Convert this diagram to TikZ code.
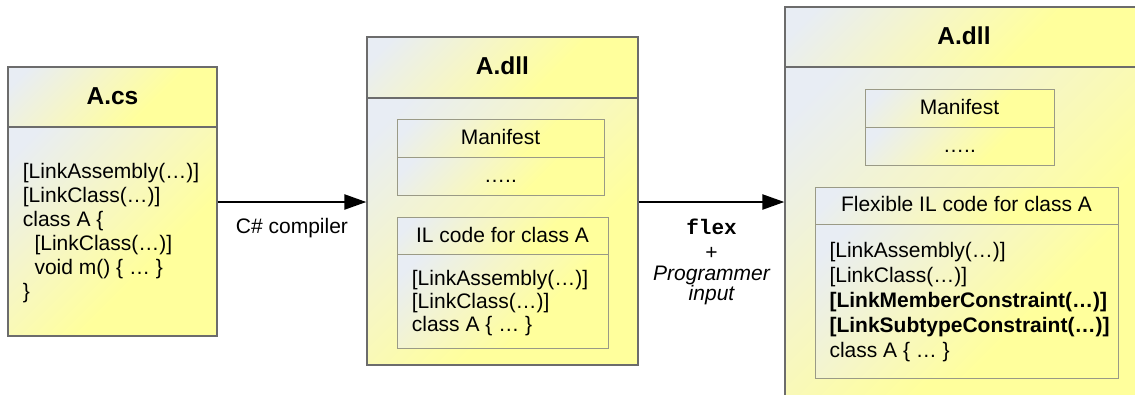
\documentclass[tikz,border=0pt]{standalone}
\usepackage{fontspec}
\setmainfont{Liberation Sans}
\setmonofont{Liberation Mono}
\usetikzlibrary{arrows.meta,fit}

\definecolor{paleblue}{HTML}{E8EDF4}
\definecolor{cream}{HTML}{F6F6C6}
\definecolor{lemon}{HTML}{FFFF9C}
\definecolor{outerline}{HTML}{6C6C6C}
\definecolor{innerline}{HTML}{9A9A86}

% diagonal paper-like fill: pale blue-grey in the top-left corner fading to yellow
\pgfdeclarehorizontalshading{paper}{100bp}{color(0bp)=(paleblue); color(20bp)=(paleblue); color(42bp)=(cream); color(62bp)=(lemon); color(100bp)=(lemon)}

\tikzset{
  x=1pt, y=-1pt,
  compart/.style={shading=paper, shading angle=-45},
  outerframe/.style={draw=outerline, line width=1.3pt},
  innerframe/.style={draw=innerline, line width=1pt},
  framebox/.style={fit={#1}, inner sep=0pt},
  titletext/.style={font=\fontsize{24.5}{28}\selectfont\bfseries, anchor=base},
  headtext/.style={font=\fontsize{21}{25}\selectfont, anchor=base},
  codeline/.style={font=\fontsize{21}{25}\selectfont, anchor=base west, inner sep=0pt},
  flow/.style={line width=2.4pt, -{Triangle[length=22pt, width=15pt]}},
  flowlabel/.style={font=\fontsize{21}{25}\selectfont, anchor=base},
}

% two-compartment box: name, left, top, right, divider, bottom, frame style
\newcommand\twopartbox[7]{%
  \path[compart] (#2,#3) rectangle (#4,#5);
  \path[compart] (#2,#5) rectangle (#4,#6);
  \draw[#7] (#2,#5) -- (#4,#5);
  \node[#7, framebox={(#2,#3) (#4,#6)}] (#1) {};
}

\begin{document}
\begin{tikzpicture}
\clip (0,0) rectangle (1135,394);
\fill[white] (0,0) rectangle (1135,394);

% ---- source file
\twopartbox{cs}{8}{67}{217}{127}{336}{outerframe}
\node[titletext] (csT) at (112.5,104.3) {A.cs};
\node[codeline] (cs1) at (22.7,178) {[LinkAssembly(…)]};
\node[codeline] (cs2) at (22.7,202) {[LinkClass(…)]};
\node[codeline] (cs3) at (22.7,226) {class A \{};
\node[codeline] (cs4) at (34.3,250) {[LinkClass(…)]};
\node[codeline] (cs5) at (34.3,274) {void m() \{ … \}};
\node[codeline] (cs6) at (22.7,298) {\}};

% ---- compiled assembly
\twopartbox{dll}{367}{37}{638}{98}{365}{outerframe}
\node[titletext] (dllT) at (502.5,74.3) {A.dll};
\twopartbox{man}{397}{119}{604}{157}{195}{innerframe}
\node[headtext] (manT) at (500.5,144.3) {Manifest};
\node[headtext] (manB) at (500.5,182.7) {…..};
\twopartbox{il}{397}{217}{608}{254}{348}{innerframe}
\node[headtext] (ilT) at (502.5,242) {IL code for class A};
\node[codeline] (il1) at (411.7,285.5) {[LinkAssembly(…)]};
\node[codeline] (il2) at (411.7,308.5) {[LinkClass(…)]};
\node[codeline] (il3) at (411.7,331.5) {class A \{ … \}};

% ---- flexible assembly
\twopartbox{fdll}{785}{7}{1143}{67}{397}{outerframe}
\node[titletext] (fdllT) at (964,44.3) {A.dll};
\twopartbox{fman}{865}{89}{1054}{127}{165}{innerframe}
\node[headtext] (fmanT) at (959.5,114.3) {Manifest};
\node[headtext] (fmanB) at (959.5,152.7) {…..};
\twopartbox{fil}{815}{187}{1118}{224}{378}{innerframe}
\node[headtext] (filT) at (966.5,211.7) {Flexible IL code for class A};
\node[codeline] (fil1) at (829.3,257.5) {[LinkAssembly(…)]};
\node[codeline] (fil2) at (829.3,282.5) {[LinkClass(…)]};
\node[codeline] (fil3) at (829.3,307.5) {\bfseries [LinkMemberConstraint(…)]};
\node[codeline] (fil4) at (829.3,332.5) {\bfseries [LinkSubtypeConstraint(…)]};
\node[codeline] (fil5) at (829.3,357.5) {class A \{ … \}};

% ---- transformations
\coordinate (lane) at (0,202);
\draw[flow] (cs.east |- lane) -- (dll.west |- lane);
\draw[flow] (dll.east |- lane) -- (fdll.west |- lane);
\node[flowlabel] (cc) at (292,233) {C\# compiler};
\node[flowlabel, font=\fontsize{21}{25}\selectfont\ttfamily\bfseries] (fx) at (711.5,234) {flex};
\node[flowlabel] (plus) at (711.5,259.5) {+};
\node[flowlabel, font=\fontsize{21}{25}\selectfont\itshape] (pg) at (711.5,280) {Programmer};
\node[flowlabel, font=\fontsize{21}{25}\selectfont\itshape] (inp) at (711.5,300) {input};
\end{tikzpicture}
\end{document}
